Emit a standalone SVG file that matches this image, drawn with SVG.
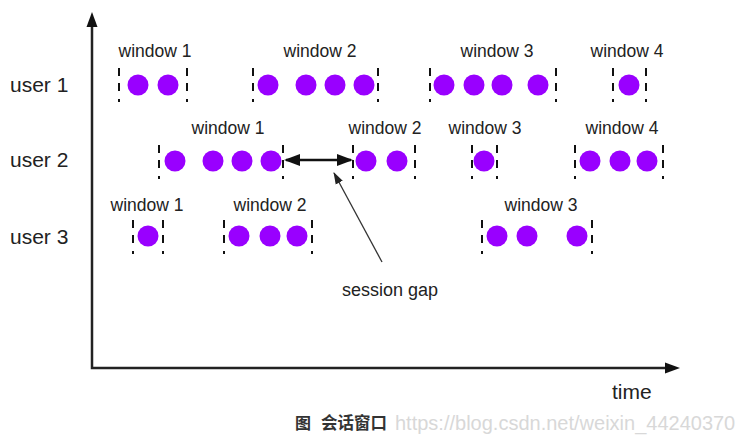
<svg xmlns="http://www.w3.org/2000/svg" width="747" height="445" viewBox="0 0 747 445">
<defs>
<style>
.t{font-family:"Liberation Sans",Arial,sans-serif;fill:#222}
.w{font-size:17.5px;text-anchor:middle}
.u{font-size:21px}
.dot{fill:#9900ff}
.d{stroke:#111;stroke-width:2;stroke-dasharray:8 7 8 8 3;fill:none}
.ax{stroke:#222;stroke-width:2.5;fill:none}
</style>
<marker id="ah" markerUnits="userSpaceOnUse" markerWidth="16" markerHeight="12" refX="14" refY="6" orient="auto-start-reverse" viewBox="0 0 16 12">
<path d="M0,0 L16,6 L0,12 z" fill="#111"/>
</marker>
<marker id="ah2" markerUnits="userSpaceOnUse" markerWidth="12" markerHeight="10" refX="11" refY="5" orient="auto" viewBox="0 0 12 10">
<path d="M0,1 L12,5 L0,9 z" fill="#222"/>
</marker>
</defs>
<rect width="747" height="445" fill="#fff"/>

<g id="axes">
<path class="ax" d="M92,26 L92,368 L666,368"/>
<path d="M86.5,27 L92,12 L97.5,27 z" fill="#111"/>
<path d="M665,362.5 L680,368 L665,373.5 z" fill="#111"/>
<text class="t" x="612" y="399" font-size="21">time</text>
</g>

<g id="labels">
<text class="t u" x="10" y="92">user 1</text>
<text class="t u" x="10" y="167">user 2</text>
<text class="t u" x="10" y="244">user 3</text>
</g>

<g id="u1w1">
<text class="t w" x="155" y="57">window 1</text>
<line class="d" x1="119" y1="68" x2="119" y2="102"/>
<line class="d" x1="187" y1="68" x2="187" y2="102"/>
<circle class="dot" cx="138" cy="85" r="10.5"/><circle class="dot" cx="168" cy="85" r="10.5"/>
</g>
<g id="u1w2">
<text class="t w" x="320" y="57">window 2</text>
<line class="d" x1="253" y1="68" x2="253" y2="102"/>
<line class="d" x1="378" y1="68" x2="378" y2="102"/>
<circle class="dot" cx="268" cy="85" r="10.5"/><circle class="dot" cx="306" cy="85" r="10.5"/><circle class="dot" cx="335" cy="85" r="10.5"/><circle class="dot" cx="364" cy="85" r="10.5"/>
</g>
<g id="u1w3">
<text class="t w" x="497" y="57">window 3</text>
<line class="d" x1="430" y1="68" x2="430" y2="102"/>
<line class="d" x1="556" y1="68" x2="556" y2="102"/>
<circle class="dot" cx="444" cy="85" r="10.5"/><circle class="dot" cx="474" cy="85" r="10.5"/><circle class="dot" cx="502" cy="85" r="10.5"/><circle class="dot" cx="538" cy="85" r="10.5"/>
</g>
<g id="u1w4">
<text class="t w" x="627" y="57">window 4</text>
<line class="d" x1="613" y1="68" x2="613" y2="102"/>
<line class="d" x1="646" y1="68" x2="646" y2="102"/>
<circle class="dot" cx="629" cy="85" r="10.5"/>
</g>

<g id="u2w1">
<text class="t w" x="228" y="134">window 1</text>
<line class="d" x1="159" y1="145" x2="159" y2="179"/>
<line class="d" x1="283" y1="145" x2="283" y2="179"/>
<circle class="dot" cx="175" cy="161" r="10.5"/><circle class="dot" cx="213" cy="161" r="10.5"/><circle class="dot" cx="242" cy="161" r="10.5"/><circle class="dot" cx="271" cy="161" r="10.5"/>
</g>
<g id="u2w2">
<text class="t w" x="385" y="134">window 2</text>
<line class="d" x1="353" y1="145" x2="353" y2="179"/>
<line class="d" x1="415" y1="145" x2="415" y2="179"/>
<circle class="dot" cx="366" cy="161" r="10.5"/><circle class="dot" cx="397" cy="161" r="10.5"/>
</g>
<g id="u2w3">
<text class="t w" x="485" y="134">window 3</text>
<line class="d" x1="472" y1="145" x2="472" y2="179"/>
<line class="d" x1="497" y1="145" x2="497" y2="179"/>
<circle class="dot" cx="484" cy="161" r="10.5"/>
</g>
<g id="u2w4">
<text class="t w" x="622" y="134">window 4</text>
<line class="d" x1="575" y1="145" x2="575" y2="179"/>
<line class="d" x1="663" y1="145" x2="663" y2="179"/>
<circle class="dot" cx="590" cy="161" r="10.5"/><circle class="dot" cx="620" cy="161" r="10.5"/><circle class="dot" cx="647" cy="161" r="10.5"/>
</g>

<g id="u3w1">
<text class="t w" x="147" y="211">window 1</text>
<line class="d" x1="133" y1="220" x2="133" y2="254"/>
<line class="d" x1="163" y1="220" x2="163" y2="254"/>
<circle class="dot" cx="148" cy="236" r="10.5"/>
</g>
<g id="u3w2">
<text class="t w" x="270" y="211">window 2</text>
<line class="d" x1="224" y1="220" x2="224" y2="254"/>
<line class="d" x1="312" y1="220" x2="312" y2="254"/>
<circle class="dot" cx="239" cy="236" r="10.5"/><circle class="dot" cx="270" cy="236" r="10.5"/><circle class="dot" cx="297" cy="236" r="10.5"/>
</g>
<g id="u3w3">
<text class="t w" x="541" y="211">window 3</text>
<line class="d" x1="482" y1="220" x2="482" y2="254"/>
<line class="d" x1="592" y1="220" x2="592" y2="254"/>
<circle class="dot" cx="497" cy="236" r="10.5"/><circle class="dot" cx="527" cy="236" r="10.5"/><circle class="dot" cx="577" cy="236" r="10.5"/>
</g>

<g id="connectors">
<line x1="286" y1="160" x2="351" y2="160" stroke="#111" stroke-width="2.5" marker-start="url(#ah)" marker-end="url(#ah)"/>
<line x1="382" y1="262" x2="334" y2="173" stroke="#333" stroke-width="1.3" marker-end="url(#ah2)"/>
</g>

<g id="session-gap">
<text class="t" x="342" y="296" font-size="18">session gap</text>
</g>

<g id="caption">
<text x="295" y="429" font-family="'Noto Sans CJK SC',sans-serif" font-size="16" font-weight="bold" fill="#333">图</text>
<text x="321" y="429" font-family="'Noto Sans CJK SC',sans-serif" font-size="16.5" font-weight="bold" fill="#333">会话窗口</text>
<text x="395" y="430" font-family="'Liberation Sans',Arial,sans-serif" font-size="20" fill="#d8d8d8">https://blog.csdn.net/weixin_44240370</text>
</g>
</svg>
